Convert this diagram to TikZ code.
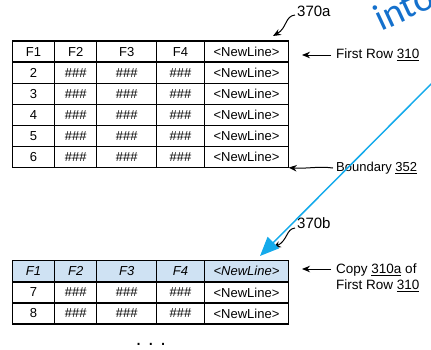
\documentclass[tikz,border=0pt]{standalone}
\usepackage{fontspec}
\setmainfont{Liberation Sans}
\newfontfamily\handfont{Carlito}
\usetikzlibrary{matrix,arrows.meta}
\definecolor{hdrfill}{RGB}{207,226,243}
\definecolor{skyline}{RGB}{20,170,235}
\definecolor{notecol}{RGB}{20,112,204}
\tikzset{
  cell/.style={draw, line width=1.4bp, outer sep=0pt, inner sep=0pt,
    minimum height=21.1bp, font=\fontsize{13bp}{14bp}\selectfont, anchor=center},
  grid/.style={matrix of nodes, nodes={cell}, column sep=-1.4bp, row sep=-1.4bp,
    inner sep=0pt, outer sep=0pt,
    column 1/.style={nodes={minimum width=42.4bp}},
    column 2/.style={nodes={minimum width=42bp}},
    column 3/.style={nodes={minimum width=60bp}},
    column 4/.style={nodes={minimum width=47.6bp}},
    column 5/.style={nodes={minimum width=84.4bp}}},
  label/.style={font=\fontsize{13.5bp}{16bp}\selectfont, inner sep=0pt, anchor=west},
  refnum/.style={font=\fontsize{15bp}{17bp}\selectfont, inner sep=0pt, anchor=west},
  pointer/.style={line width=1bp, -{Stealth[length=8bp,width=6.5bp]}},
  flow/.style={draw=skyline, line width=1.5bp, -{Triangle[length=19bp,width=16bp]}, skyline}
}
\begin{document}
\begin{tikzpicture}[x=1bp,y=-1bp]
\clip (0,0) rectangle (431,350);

% first table, with its header row
\matrix (tabA) [grid, anchor=north west] at (11.6,40.3) {
F1 & F2 & F3 & F4 & <NewLine> \\
2 & \#\#\# & \#\#\# & \#\#\# & <NewLine> \\
3 & \#\#\# & \#\#\# & \#\#\# & <NewLine> \\
4 & \#\#\# & \#\#\# & \#\#\# & <NewLine> \\
5 & \#\#\# & \#\#\# & \#\#\# & <NewLine> \\
6 & \#\#\# & \#\#\# & \#\#\# & <NewLine> \\
};

% second table, starting with the copied header row
\matrix (tabB) [grid, anchor=north west,
  row 1/.style={nodes={fill=hdrfill, font=\fontsize{13bp}{14bp}\selectfont\itshape}}]
  at (11.6,260) {
F1 & F2 & F3 & F4 & <NewLine> \\
7 & \#\#\# & \#\#\# & \#\#\# & <NewLine> \\
8 & \#\#\# & \#\#\# & \#\#\# & <NewLine> \\
};

% continuation dots
\node (more) [font=\fontsize{20bp}{22bp}\selectfont, inner sep=0pt] at (151,344.5) {.\,\,.\,\,.};

% reference labels and their pointers
\node (lblA) [refnum] at (297,11) {370a};
\coordinate (tipA) at (273,36);
\draw[pointer] (lblA.west) ++(-2,4) .. controls (285,16) and (287,28) .. (tipA);

\node (lblB) [refnum] at (297,223) {370b};
\coordinate (tipB) at (273,248);
\draw[pointer] (lblB.west) ++(-2,5) .. controls (286,229) and (288,240) .. (tipB);

\node (firstrow) [label] at (336,55) {First Row \underline{310}};
\draw[pointer] (firstrow.west) ++(-5,0) -- (302,55);

\node (boundary) [label, font=\fontsize{13bp}{15bp}\selectfont] at (336,168) {Boundary \underline{352}};
\draw[pointer] (boundary.west) ++(-3,0) .. controls (318,166) and (306,169) .. (tabA-6-5.south east);

\node (copy) [label, align=left] at (336,277.5) {Copy \underline{310a} of\\First Row \underline{310}};
\draw[pointer] (copy.west) ++(-5,-8.5) -- (302,269);

% handwritten note and its arrow
\node (note) [font=\handfont\fontsize{38bp}{40bp}\selectfont, text=notecol,
  rotate=25, anchor=base west, inner sep=0pt] at (381,32) {into};
\coordinate (flowStart) at (445,70);
\coordinate (flowEnd) at (260,256);
\draw[flow] (flowStart) -- (flowEnd);
\end{tikzpicture}
\end{document}
